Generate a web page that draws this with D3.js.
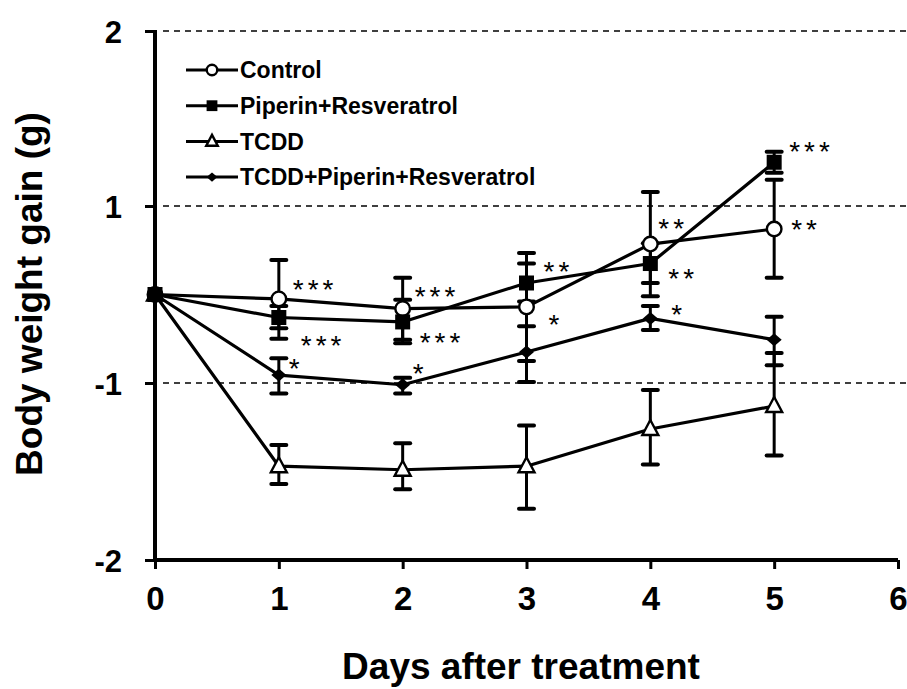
<!DOCTYPE html>
<html>
<head>
<meta charset="utf-8">
<script src="https://cdn.jsdelivr.net/npm/d3@7"></script>
<style>
  html, body { margin: 0; padding: 0; background: #fff; }
  svg { display: block; }
</style>
</head>
<body>
<svg id="chart" width="907" height="689"></svg>
<script>
// ---------------- DATA ----------------
const days = [0, 1, 2, 3, 4, 5];
const xTickValues = [0, 1, 2, 3, 4, 5, 6];
const xTickLabels = ["0", "1", "2", "3", "4", "5", "6"];
const yTickValues = [-2, -1, 1, 2];
const yTickLabels = ["-2", "-1", "1", "2"];
const gridValues = [-1, 1, 2];

const seriesNames = ["Control", "Piperin+Resveratrol", "TCDD", "TCDD+Piperin+Resveratrol"];

const controlMean  = [0, -0.05, -0.16, -0.14, 0.57, 0.74];
const controlUpper = [0,  0.39,  0.19,  0.47, 1.08, 1.15];
const controlLower = [0, -0.50, -0.51, -0.75, -0.02, 0.19];
const controlSig   = ["", "***", "***", "*", "**", "**"];

const piperinMean  = [0, -0.26, -0.31, 0.13, 0.35, 1.25];
const piperinUpper = [0, -0.13, -0.06, 0.35, 0.58, 1.31];
const piperinLower = [0, -0.38, -0.55, -0.08, 0.13, 1.19];
const piperinSig   = ["", "***", "***", "**", "**", "***"];

const tcddMean  = [0, -1.47, -1.49, -1.47, -1.26, -1.13];
const tcddUpper = [0, -1.35, -1.34, -1.24, -1.04, -0.66];
const tcddLower = [0, -1.57, -1.60, -1.71, -1.46, -1.41];
const tcddSig   = ["", "", "", "", "", ""];

const tcddPRMean  = [0, -0.91, -1.01, -0.65, -0.27, -0.51];
const tcddPRUpper = [0, -0.72, -0.94, -0.36, -0.13, -0.25];
const tcddPRLower = [0, -1.06, -1.06, -0.99, -0.40, -0.80];
const tcddPRSig   = ["", "*", "*", "", "*", ""];

// ---------------- LAYOUT ----------------
const series = [
  { name: seriesNames[2], mean: tcddMean,    upper: tcddUpper,    lower: tcddLower,    sig: tcddSig,    marker: "triangle" },
  { name: seriesNames[3], mean: tcddPRMean,  upper: tcddPRUpper,  lower: tcddPRLower,  sig: tcddPRSig,  marker: "diamond" },
  { name: seriesNames[0], mean: controlMean, upper: controlUpper, lower: controlLower, sig: controlSig, marker: "circle" },
  { name: seriesNames[1], mean: piperinMean, upper: piperinUpper, lower: piperinLower, sig: piperinSig, marker: "square" }
];
// label offsets (from data point to start of asterisk text / asterisk centre)
const sigOffsets = {
  "circle":   [null, [14,-16], [12,-19], [22,11], [8,-22], [17,-6]],
  "square":   [null, [22,21], [17,14], [17,-18], [18,8], [15,-17]],
  "diamond":  [null, [10,-13], [10,-18], null, [21,-10], null],
  "triangle": [null, null, null, null, null, null]
};

const svg = d3.select("#chart");
const FONT = "'Liberation Sans', Arial, Helvetica, sans-serif";

const x = d3.scaleLinear().domain([0, 6]).range([155, 898]);
// axis as printed: equally spaced ticks labelled 2, 1, -1, -2
const y = d3.scaleLinear().domain([-2, -1, 1, 2]).range([560, 383, 206, 31]);

// gridlines
svg.append("g").selectAll("line").data(gridValues).join("line")
  .attr("x1", x(0) + 8).attr("x2", 907)
  .attr("y1", d => y(d)).attr("y2", d => y(d))
  .attr("stroke", "#000").attr("stroke-width", 1.6)
  .attr("stroke-dasharray", "6,5");

// y axis
const yAxis = d3.axisLeft(y).tickValues(yTickValues)
  .tickFormat((d, i) => yTickLabels[i]).tickSize(10).tickPadding(22);
const gy = svg.append("g").attr("transform", `translate(${x(0)},0)`).call(yAxis);
gy.select(".domain").remove();
gy.selectAll(".tick line").attr("stroke", "#000").attr("stroke-width", 3);
gy.selectAll(".tick text").attr("font-family", FONT).attr("font-weight", "bold")
  .attr("font-size", 31).attr("fill", "#000").attr("x", -(x(0) - 122)).attr("dy", "0.36em");
svg.append("line").attr("x1", x(0)).attr("x2", x(0)).attr("y1", y(2) - 1).attr("y2", y(-2) + 2)
  .attr("stroke", "#000").attr("stroke-width", 4);

// x axis
const xAxis = d3.axisBottom(x).tickValues(xTickValues)
  .tickFormat((d, i) => xTickLabels[i]).tickSize(9).tickPadding(18);
const gx = svg.append("g").attr("transform", `translate(0,${y(-2)})`).call(xAxis);
gx.select(".domain").remove();
gx.selectAll(".tick line").attr("stroke", "#000").attr("stroke-width", 3);
gx.selectAll(".tick text").attr("font-family", FONT).attr("font-weight", "bold")
  .attr("font-size", 33).attr("fill", "#000").attr("dy", "0.71em");
svg.append("line").attr("x1", x(0) - 2).attr("x2", x(6)).attr("y1", y(-2)).attr("y2", y(-2))
  .attr("stroke", "#000").attr("stroke-width", 4);

// axis titles
svg.append("text").attr("x", 521).attr("y", 679).attr("text-anchor", "middle")
  .attr("font-family", FONT).attr("font-weight", "bold").attr("font-size", 37)
  .text("Days after treatment");
svg.append("text").attr("transform", "translate(42,294) rotate(-90)").attr("text-anchor", "middle")
  .attr("font-family", FONT).attr("font-weight", "bold").attr("font-size", 37)
  .text("Body weight gain (g)");

// marker drawing
function drawMarker(g, type, cx, cy, s) {
  if (type === "circle") {
    g.append("circle").attr("cx", cx).attr("cy", cy).attr("r", 7.3 * s)
      .attr("fill", "#fff").attr("stroke", "#000").attr("stroke-width", 2.4);
  } else if (type === "square") {
    const w = 15 * s;
    g.append("rect").attr("x", cx - w / 2).attr("y", cy - w / 2).attr("width", w).attr("height", w)
      .attr("fill", "#000");
  } else if (type === "triangle") {
    const w = 16 * s, h = 15 * s;
    g.append("path").attr("d", `M${cx},${cy - h * 0.6}L${cx + w / 2},${cy + h * 0.4}L${cx - w / 2},${cy + h * 0.4}Z`)
      .attr("fill", "#fff").attr("stroke", "#000").attr("stroke-width", 2.4).attr("stroke-linejoin", "miter");
  } else if (type === "diamond") {
    const w = 15 * s, h = 13 * s;
    g.append("path").attr("d", `M${cx},${cy - h / 2}L${cx + w / 2},${cy}L${cx},${cy + h / 2}L${cx - w / 2},${cy}Z`)
      .attr("fill", "#000");
  }
}

// error bars
const gErr = svg.append("g");
series.forEach(s => {
  days.forEach((d, i) => {
    if (s.upper[i] === s.lower[i]) return;
    const cx = x(d);
    gErr.append("line").attr("x1", cx).attr("x2", cx)
      .attr("y1", y(s.upper[i])).attr("y2", y(s.lower[i]))
      .attr("stroke", "#000").attr("stroke-width", 3);
    [s.upper[i], s.lower[i]].forEach(v => {
      gErr.append("line").attr("x1", cx - 7.5).attr("x2", cx + 7.5)
        .attr("y1", y(v)).attr("y2", y(v))
        .attr("stroke", "#000").attr("stroke-width", 4).attr("stroke-linecap", "round");
    });
  });
});

// lines
const line = d3.line().x((d, i) => x(days[i])).y(d => y(d));
svg.append("g").selectAll("path").data(series).join("path")
  .attr("d", s => line(s.mean)).attr("fill", "none")
  .attr("stroke", "#000").attr("stroke-width", 3.2).attr("stroke-linejoin", "round");

// markers
const gMark = svg.append("g");
series.forEach(s => {
  days.forEach((d, i) => drawMarker(gMark, s.marker, x(d), y(s.mean[i]), 1));
});

// significance labels
const gSig = svg.append("g");
series.forEach(s => {
  s.sig.forEach((t, i) => {
    const off = sigOffsets[s.marker][i];
    if (!t || !off) return;
    gSig.append("text")
      .attr("x", x(days[i]) + off[0]).attr("y", y(s.mean[i]) + off[1] + 16)
      .attr("font-family", FONT).attr("font-size", 28)
      .attr("letter-spacing", t.length > 1 ? 4 : 0)
      .attr("fill", "#000").text(t);
  });
});

// legend
const legendOrder = [
  { name: seriesNames[0], marker: "circle" },
  { name: seriesNames[1], marker: "square" },
  { name: seriesNames[2], marker: "triangle" },
  { name: seriesNames[3], marker: "diamond" }
];
const gLeg = svg.append("g");
legendOrder.forEach((e, i) => {
  const cy = 70 + i * 35.7;
  gLeg.append("line").attr("x1", 186).attr("x2", 238).attr("y1", cy).attr("y2", cy)
    .attr("stroke", "#000").attr("stroke-width", 3);
  drawMarker(gLeg, e.marker, 212, cy, 0.72);
  gLeg.append("text").attr("x", 240).attr("y", cy + 8.2)
    .attr("font-family", FONT).attr("font-weight", "bold").attr("font-size", 23)
    .text(e.name);
});
</script>
</body>
</html>
